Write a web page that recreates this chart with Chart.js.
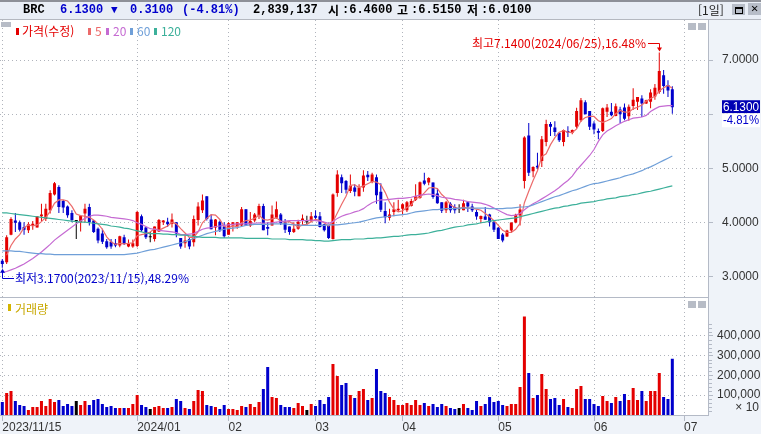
<!DOCTYPE html>
<html lang="ko"><head><meta charset="utf-8">
<script src="https://cdn.jsdelivr.net/npm/chart.js@4"></script>
<style>
html,body{margin:0;padding:0;width:761px;height:434px;overflow:hidden;background:#eff3f9}
#wrap{position:absolute;left:0;top:0;width:761px;height:434px}
canvas{position:absolute;left:0;top:0}
.t{position:absolute;white-space:pre;font-family:"Liberation Mono","Noto Sans CJK KR",monospace;line-height:14px}
.h{font-weight:bold;font-size:12px;top:3px;color:#000;transform-origin:left center}
.b{color:#0000cc}
.box{position:absolute;background:#b7bcc6}
.leg{font-family:"Liberation Sans Narrow","Noto Sans CJK KR",sans-serif;font-size:12px;top:24px}
.sq{position:absolute;width:3px;height:7px;top:28px}
</style></head><body><div id="wrap">
<div style="position:absolute;left:0;top:0;width:761px;height:19px;background:#e9eef6;border-top:2px solid #8d9098;box-sizing:border-box"></div>
<div style="position:absolute;left:0;top:19px;width:761px;height:1px;background:#b4b8c0"></div>
<canvas id="c" width="761" height="434"></canvas>
<div class="t h" style="left:23px">BRC</div>
<div class="t h b" style="left:60px">6.1300</div>
<div class="t h b" style="left:111px;font-size:11px">▼</div>
<div class="t h b" style="left:130px">0.3100</div>
<div class="t h b" style="left:182px">(-4.81%)</div>
<div class="t h" style="left:253px">2,839,137</div>
<div class="t h" style="left:328px;font-family:'Noto Sans CJK KR';letter-spacing:0">시</div>
<div class="t h" style="left:342px">:6.4600</div>
<div class="t h" style="left:397px;font-family:'Noto Sans CJK KR'">고</div>
<div class="t h" style="left:411px">:6.5150</div>
<div class="t h" style="left:467px;font-family:'Noto Sans CJK KR'">저</div>
<div class="t h" style="left:481px">:6.0100</div>
<div class="t" style="left:698px;top:3px;font-size:12px;font-family:'Noto Sans CJK KR';color:#222">[1일]</div>
<div style="position:absolute;left:732px;top:4px;width:13px;height:11px;background:#b7bdc8"></div>
<div style="position:absolute;left:735px;top:7px;width:6px;height:4px;border:1px solid #000;border-top-width:2px;box-sizing:content-box"></div>
<div class="t" style="left:748px;top:3px;width:13px;height:12px;background:#b7bdc8;font-size:12px;font-weight:bold;text-align:center;line-height:12px;color:#000">✕</div>
<div class="box" style="left:1px;top:22px;width:10px;height:5px"></div>
<div class="sq" style="left:16px;background:#e40000"></div><div class="t leg" style="left:22px;color:#e40000;font-family:'Noto Sans CJK KR'">가격(수정)</div>
<div class="sq" style="left:88px;background:#ec6a6a"></div><div class="t leg" style="left:95px;color:#ec6a6a">5</div>
<div class="sq" style="left:106px;background:#c56ad2"></div><div class="t leg" style="left:113px;color:#c56ad2">20</div>
<div class="sq" style="left:130px;background:#6f9fd8"></div><div class="t leg" style="left:137px;color:#6f9fd8">60</div>
<div class="sq" style="left:154px;background:#3cb09a"></div><div class="t leg" style="left:161px;color:#3cb09a">120</div>
<div class="sq" style="left:8px;top:304px;background:#d4b400"></div><div class="t leg" style="left:15px;top:302px;color:#c8a800;font-family:'Noto Sans CJK KR'">거래량</div>
<div class="box" style="left:688px;top:23px;width:8px;height:7px"></div><div class="box" style="left:698px;top:23px;width:8px;height:7px"></div>
<div class="box" style="left:688px;top:301px;width:8px;height:7px"></div><div class="box" style="left:698px;top:301px;width:8px;height:7px"></div>
<div class="t" style="left:732px;top:400px;width:27px;text-align:right;font-family:'Liberation Sans Narrow','Liberation Sans',sans-serif;font-size:12px;color:#333">× 10</div>
</div>
<script>
const categories=[
"2023/11/15","11/16","11/17","11/20","11/21","11/22","11/24","11/27","11/28","11/29","11/30",
"12/01","12/04","12/05","12/06","12/07","12/08","12/11","12/12","12/13","12/14","12/15","12/18","12/19","12/20","12/21","12/22","12/26","12/27","12/28","12/29",
"2024/01/02","01/03","01/04","01/05","01/08","01/09","01/10","01/11","01/12","01/16","01/17","01/18","01/19","01/22","01/23","01/24","01/25","01/26","01/29","01/30","01/31",
"02/01","02/02","02/05","02/06","02/07","02/08","02/09","02/12","02/13","02/14","02/15","02/16","02/20","02/21","02/22","02/23","02/26","02/27","02/28","02/29",
"03/01","03/04","03/05","03/06","03/07","03/08","03/11","03/12","03/13","03/14","03/15","03/18","03/19","03/20","03/21","03/22","03/25","03/26","03/27","03/28",
"04/01","04/02","04/03","04/04","04/05","04/08","04/09","04/10","04/11","04/12","04/15","04/16","04/17","04/18","04/19","04/22","04/23","04/24","04/25","04/26","04/29","04/30",
"05/01","05/02","05/03","05/06","05/07","05/08","05/09","05/10","05/13","05/14","05/15","05/16","05/17","05/20","05/21","05/22","05/23","05/24","05/28","05/29","05/30","05/31",
"06/03","06/04","06/05","06/06","06/07","06/10","06/11","06/12","06/13","06/14","06/17","06/18","06/20","06/21","06/24","06/25","06/26","06/27","06/28"];
const opens=[3.30,3.27,3.78,4.04,4.01,3.92,3.86,3.95,3.91,4.12,4.07,4.23,4.52,4.66,4.40,4.30,4.18,4.03,4.01,4.17,4.29,4.04,3.89,3.80,3.66,3.65,3.62,3.58,3.73,3.56,3.56,3.57,4.12,3.91,3.73,3.70,3.84,4.01,4.02,3.98,4.01,3.72,3.62,3.70,3.64,4.05,4.23,4.49,4.06,3.91,4.02,3.93,3.78,3.95,3.93,3.95,4.25,3.95,4.04,4.13,4.31,3.92,3.95,4.09,4.15,4.01,3.93,3.83,3.89,4.04,4.01,4.03,4.13,4.12,3.97,3.95,3.70,4.55,4.84,4.77,4.585,4.65,4.49,4.65,4.887,4.75,4.84,4.57,4.215,4.09,4.20,4.23,4.26,4.23,4.31,4.425,4.456,4.78,4.74,4.74,4.54,4.38,4.23,4.35,4.29,4.25,4.23,4.38,4.30,4.197,4.07,4.117,4.15,4.01,3.907,3.784,3.747,3.858,4.006,4.135,4.77,5.61,4.95,5.05,5.14,5.49,5.82,5.755,5.66,5.49,5.69,5.66,5.77,5.89,6.22,6.06,5.83,5.69,5.69,6.045,6.045,5.97,6.09,6.125,5.965,6.155,6.23,6.29,6.20,6.23,6.33,6.41,6.72,6.54,6.46];
const highs=[3.33,3.77,4.10,4.18,4.04,4.01,4.01,4.03,4.12,4.35,4.35,4.60,4.75,4.69,4.42,4.32,4.23,4.05,4.13,4.35,4.35,4.05,3.91,3.89,3.70,3.70,3.70,3.76,3.78,3.69,3.69,4.22,4.15,3.92,3.83,3.93,4.07,4.05,4.09,4.17,4.01,3.72,3.77,3.73,4.135,4.38,4.52,4.49,4.15,4.07,4.04,4.01,4.01,4.01,4.01,4.29,4.25,4.20,4.18,4.35,4.35,4.01,4.32,4.39,4.18,4.07,3.93,4.01,4.055,4.15,4.13,4.20,4.23,4.20,3.98,3.95,4.54,4.97,4.89,4.79,4.89,4.71,4.71,4.97,4.955,4.92,4.89,4.73,4.38,4.26,4.38,4.425,4.36,4.40,4.44,4.71,4.76,4.92,4.84,4.74,4.63,4.38,4.40,4.38,4.34,4.34,4.425,4.40,4.35,4.24,4.135,4.29,4.165,4.04,3.92,3.81,3.87,4.006,4.166,4.339,5.595,5.84,5.04,5.29,5.60,5.90,5.86,5.87,5.66,5.72,5.78,5.72,6.12,6.30,6.26,6.06,5.87,5.74,6.125,6.19,6.21,6.20,6.14,6.20,6.18,6.48,6.32,6.35,6.27,6.46,6.56,7.14,6.815,6.63,6.515];
const lows=[3.17,3.24,3.77,3.83,3.84,3.78,3.81,3.87,3.91,4.03,4.03,4.17,4.50,4.18,4.18,4.09,4.01,3.70,3.84,4.01,3.95,3.81,3.62,3.61,3.52,3.52,3.55,3.55,3.59,3.55,3.54,3.55,3.83,3.70,3.64,3.655,3.83,3.96,3.92,3.91,3.73,3.52,3.54,3.51,3.56,3.95,4.18,4.04,3.88,3.77,3.83,3.72,3.78,3.84,3.89,3.93,3.95,3.92,4.01,4.07,3.86,3.77,3.95,4.07,3.96,3.81,3.78,3.81,3.87,3.95,3.95,4.01,4.04,3.91,3.84,3.70,3.69,4.48,4.55,4.54,4.55,4.49,4.49,4.57,4.77,4.73,4.35,4.20,3.99,4.04,4.12,4.20,4.14,4.20,4.30,4.40,4.44,4.69,4.69,4.44,4.35,4.18,4.18,4.185,4.17,4.18,4.23,4.20,4.20,4.055,3.99,4.055,3.93,3.83,3.70,3.64,3.735,3.81,3.99,3.95,4.63,4.86,4.84,4.98,5.03,5.41,5.60,5.60,5.49,5.41,5.58,5.63,5.74,5.86,6.00,5.71,5.63,5.54,5.675,5.95,5.965,5.965,5.84,5.89,5.88,6.08,6.08,5.95,6.19,6.11,6.27,6.38,6.38,6.32,6.01];
const closes=[3.24,3.73,4.07,4.00,3.87,3.87,3.97,3.98,4.12,4.15,4.26,4.55,4.73,4.29,4.28,4.14,4.05,4.03,4.13,4.26,4.01,3.83,3.67,3.65,3.55,3.56,3.58,3.75,3.61,3.61,3.62,4.20,3.86,3.73,3.73,3.93,4.05,4.04,3.97,4.06,3.80,3.56,3.67,3.56,4.07,4.30,4.41,4.07,3.88,4.06,3.87,3.75,3.99,4.01,4.01,4.25,3.95,4.03,4.15,4.31,3.86,3.89,4.15,4.25,3.99,3.87,3.83,3.89,4.02,4.08,4.01,4.12,4.09,3.92,3.86,3.72,4.52,4.89,4.73,4.61,4.68,4.57,4.65,4.87,4.84,4.89,4.505,4.24,4.10,4.15,4.25,4.26,4.34,4.38,4.40,4.49,4.745,4.72,4.825,4.475,4.36,4.22,4.38,4.23,4.23,4.25,4.36,4.30,4.23,4.117,4.123,4.055,4.01,3.87,3.70,3.67,3.858,4.006,4.148,4.246,5.57,4.92,5.03,5.02,5.54,5.82,5.77,5.675,5.52,5.71,5.66,5.71,6.06,6.26,6.00,5.77,5.72,5.66,6.11,6.125,5.98,6.15,6.00,5.92,6.14,6.27,6.32,6.20,6.26,6.40,6.49,6.80,6.52,6.44,6.13];
const volumes=[66000,111000,121000,71000,50000,45000,25000,40000,40000,71000,45000,81000,66000,76000,45000,56000,45000,71000,50000,71000,50000,76000,81000,56000,40000,45000,35000,35000,35000,35000,56000,101000,50000,40000,30000,40000,45000,35000,35000,40000,81000,71000,35000,30000,71000,126000,121000,50000,45000,40000,30000,50000,30000,30000,25000,45000,40000,56000,40000,66000,131000,242000,91000,86000,50000,40000,40000,35000,61000,45000,25000,56000,45000,76000,56000,91000,258000,197000,152000,162000,101000,86000,121000,131000,76000,86000,232000,121000,111000,91000,76000,50000,50000,61000,50000,76000,50000,61000,45000,56000,40000,56000,45000,35000,30000,35000,56000,35000,25000,71000,45000,56000,91000,66000,71000,50000,45000,56000,56000,141000,497000,212000,86000,101000,207000,131000,81000,86000,50000,81000,40000,35000,131000,146000,81000,81000,56000,45000,96000,71000,61000,91000,71000,106000,76000,136000,76000,121000,71000,121000,121000,212000,91000,81000,283914];
const ma5=[null,3.40,3.58,3.70,3.78,3.91,3.96,3.94,3.96,4.02,4.10,4.21,4.36,4.42,4.42,4.40,4.30,4.16,4.13,4.12,4.10,4.05,3.98,3.88,3.74,3.65,3.60,3.62,3.61,3.62,3.63,3.76,3.78,3.80,3.83,3.89,3.86,3.90,3.94,4.01,3.98,3.89,3.81,3.73,3.73,3.83,4.00,4.08,4.15,4.14,4.06,3.93,3.91,3.94,3.93,4.00,4.04,4.05,4.08,4.14,4.06,4.05,4.07,4.09,4.03,4.01,4.02,3.97,3.92,3.96,3.97,4.02,4.06,4.04,4.00,3.94,4.02,4.18,4.34,4.49,4.69,4.70,4.65,4.68,4.72,4.76,4.75,4.70,4.56,4.38,4.25,4.20,4.22,4.28,4.33,4.45,4.47,4.55,4.64,4.65,4.63,4.52,4.45,4.33,4.28,4.26,4.29,4.27,4.27,4.25,4.23,4.17,4.11,4.04,3.95,3.86,3.82,3.82,3.88,3.99,4.37,4.58,4.78,4.96,5.22,5.27,5.44,5.57,5.67,5.70,5.67,5.66,5.73,5.88,5.94,5.96,5.96,5.88,5.85,5.88,5.92,6.01,6.07,6.04,6.04,6.10,6.13,6.17,6.24,6.29,6.33,6.43,6.49,6.53,6.48];
const ma20=[3.08,3.10,3.13,3.16,3.20,3.24,3.29,3.34,3.40,3.46,3.53,3.60,3.68,3.74,3.80,3.86,3.92,3.98,4.03,4.08,4.12,4.14,4.14,4.13,4.12,4.10,4.09,4.08,4.07,4.06,4.04,4.00,3.97,3.93,3.89,3.88,3.86,3.85,3.84,3.83,3.82,3.78,3.78,3.79,3.80,3.84,3.88,3.90,3.91,3.93,3.94,3.95,3.96,3.97,3.98,3.98,3.98,3.99,3.99,4.00,3.99,4.00,4.00,4.01,4.02,4.03,4.04,4.04,4.04,4.04,4.04,4.05,4.04,4.03,4.01,3.99,4.02,4.08,4.12,4.15,4.17,4.20,4.22,4.26,4.32,4.37,4.40,4.42,4.42,4.43,4.44,4.45,4.45,4.46,4.47,4.49,4.51,4.52,4.53,4.52,4.50,4.47,4.46,4.45,4.43,4.42,4.41,4.39,4.38,4.37,4.36,4.34,4.31,4.27,4.23,4.19,4.15,4.13,4.14,4.17,4.24,4.30,4.35,4.39,4.44,4.49,4.54,4.59,4.65,4.72,4.78,4.86,4.97,5.06,5.15,5.24,5.35,5.50,5.62,5.69,5.74,5.79,5.83,5.87,5.90,5.93,5.94,5.95,5.98,6.05,6.10,6.14,6.15,6.16,6.16];
const ma60=[3.48,3.48,3.48,3.47,3.47,3.46,3.45,3.44,3.43,3.43,3.42,3.42,3.41,3.41,3.41,3.41,3.41,3.41,3.41,3.41,3.41,3.41,3.41,3.41,3.41,3.41,3.41,3.41,3.41,3.42,3.43,3.44,3.46,3.48,3.50,3.51,3.53,3.55,3.57,3.59,3.61,3.63,3.65,3.68,3.71,3.74,3.77,3.80,3.82,3.84,3.86,3.88,3.89,3.90,3.91,3.93,3.95,3.96,3.97,3.97,3.97,3.97,3.98,3.98,3.98,3.98,3.97,3.96,3.96,3.95,3.95,3.95,3.95,3.95,3.95,3.96,3.96,3.96,3.97,3.98,3.99,4.00,4.01,4.03,4.05,4.07,4.09,4.10,4.11,4.12,4.13,4.14,4.15,4.16,4.18,4.20,4.21,4.22,4.23,4.24,4.24,4.25,4.26,4.26,4.26,4.27,4.27,4.27,4.27,4.27,4.27,4.27,4.26,4.26,4.26,4.26,4.27,4.27,4.28,4.29,4.29,4.30,4.33,4.36,4.39,4.42,4.45,4.48,4.50,4.53,4.56,4.59,4.61,4.64,4.67,4.70,4.72,4.73,4.75,4.77,4.79,4.81,4.83,4.86,4.88,4.90,4.93,4.96,5.00,5.03,5.07,5.11,5.15,5.19,5.23];
const ma120=[4.18,4.18,4.17,4.16,4.15,4.14,4.13,4.12,4.11,4.10,4.09,4.08,4.07,4.06,4.05,4.04,4.03,4.02,4.01,4.01,4.00,3.99,3.98,3.97,3.96,3.94,3.93,3.92,3.90,3.89,3.87,3.85,3.83,3.81,3.80,3.80,3.80,3.79,3.79,3.78,3.78,3.77,3.77,3.76,3.75,3.74,3.73,3.73,3.73,3.73,3.72,3.72,3.72,3.72,3.72,3.72,3.71,3.71,3.71,3.71,3.71,3.71,3.70,3.70,3.70,3.70,3.69,3.69,3.69,3.69,3.68,3.68,3.67,3.67,3.66,3.66,3.67,3.68,3.69,3.69,3.69,3.70,3.70,3.70,3.71,3.71,3.72,3.72,3.73,3.74,3.75,3.75,3.76,3.77,3.78,3.78,3.79,3.80,3.81,3.83,3.85,3.86,3.88,3.90,3.92,3.93,3.94,3.96,3.97,3.98,4.00,4.01,4.03,4.04,4.05,4.06,4.07,4.08,4.09,4.11,4.13,4.15,4.17,4.19,4.21,4.23,4.25,4.27,4.28,4.30,4.31,4.33,4.34,4.36,4.37,4.38,4.39,4.41,4.42,4.44,4.45,4.46,4.48,4.49,4.50,4.52,4.53,4.55,4.57,4.58,4.60,4.62,4.64,4.66,4.68];
const xTickIndex=[0,31,52,72,92,114,136,156.7];
const xTickLabels=["2023/11/15","2024/01","02","03","04","05","06","07"];
const priceTicks=[3,4,5,6,7];
const volumeTicks=[100000,200000,300000,400000];
const volumeMinorTicks=[20000,40000,60000,80000,120000,140000,160000,180000,220000,240000,260000,280000,320000,340000,360000,380000,420000,440000,460000];
const hiNote="최고7.1400(2024/06/25),16.48%", loNote="최저3.1700(2023/11/15),48.29%";
const hiIndex=151, hiValue=7.14, loIndex=0, loValue=3.17;
const lastLabel="6.1300", lastPct="-4.81%";

const RED="#e40000",BLUE="#0000cc",BLACK="#000000";
const dirColor=categories.map((_,i)=>closes[i]>opens[i]?RED:closes[i]<opens[i]?BLUE:BLACK);
const pts=a=>a.map((v,i)=>({x:i,y:v}));
const line=(label,arr,color)=>({type:"line",label,data:pts(arr),yAxisID:"yP",borderColor:color,borderWidth:1.2,pointRadius:0,tension:0,order:0,spanGaps:true});
const AXIS_FONT={family:"'Liberation Sans Narrow','Liberation Sans',sans-serif",size:12};
const GRID={color:"#b0b4bc",tickBorderDash:[],tickColor:"#b4bac6"};
const BORDER={display:false,dash:[1,3]};
const frame={id:"frame",
 beforeDraw(ch){const{ctx,chartArea:a}=ch;ctx.save();ctx.fillStyle="#fff";ctx.fillRect(a.left,a.top,a.right-a.left,a.bottom-a.top);ctx.restore();},
 afterDraw(ch){const{ctx,chartArea:a,scales:s}=ch;const yP=s.yP,yV=s.yV,x=s.x;ctx.save();
  ctx.fillStyle="#b4bac6";
  ctx.fillRect(a.left,297,a.right-a.left,1);ctx.fillRect(a.right,20,1,395);ctx.fillRect(a.left,415,a.right+1,1);
  volumeMinorTicks.forEach(v=>{ctx.fillRect(a.right,Math.round(yV.getPixelForValue(v)),4,1);});
  const cjk="'Noto Sans CJK KR','Liberation Sans Narrow',sans-serif";
  ctx.font="12px "+cjk;ctx.textBaseline="middle";ctx.textAlign="left";
  const hx=Math.round(x.getPixelForValue(hiIndex)),hy=yP.getPixelForValue(hiValue);
  ctx.fillStyle=RED;ctx.fillText(hiNote,472,43,174);
  ctx.strokeStyle=RED;ctx.lineWidth=1;ctx.beginPath();ctx.moveTo(648,43.5);ctx.lineTo(hx+.5,43.5);ctx.lineTo(hx+.5,hy-3);ctx.stroke();
  ctx.beginPath();ctx.moveTo(hx-2,hy-5);ctx.lineTo(hx+3,hy-5);ctx.lineTo(hx+.5,hy-1);ctx.fill();
  const lx=Math.round(x.getPixelForValue(loIndex)),ly=yP.getPixelForValue(loValue);
  ctx.fillStyle=BLUE;ctx.fillText(loNote,15,278,174);
  ctx.strokeStyle=BLUE;ctx.beginPath();ctx.moveTo(14,278.5);ctx.lineTo(lx+.5,278.5);ctx.lineTo(lx+.5,ly+3);ctx.stroke();
  ctx.beginPath();ctx.moveTo(lx-2,ly+5);ctx.lineTo(lx+3,ly+5);ctx.lineTo(lx+.5,ly+1);ctx.fill();
  const py=yP.getPixelForValue(closes[closes.length-1]);
  ctx.fillStyle="#0000b4";ctx.fillRect(722,py-7,38,13);
  ctx.fillStyle="#fff";ctx.fillRect(722,py+6,38,14);
  ctx.font="12px "+AXIS_FONT.family;ctx.fillStyle="#fff";ctx.fillText(lastLabel,723,py,36);
  ctx.fillStyle="#0000cc";ctx.fillText(lastPct,723,py+13,36);
  ctx.restore();}
};
new Chart(document.getElementById("c"),{
 data:{datasets:[
  line("120",ma120,"#3cb09a"),line("60",ma60,"#6f9fd8"),line("20",ma20,"#c56ad2"),line("5",ma5,"#ec6a6a"),
  {type:"bar",label:"body",data:categories.map((_,i)=>({x:i,y:[opens[i],closes[i]]})),yAxisID:"yP",backgroundColor:dirColor,barThickness:3,minBarLength:1,inflateAmount:0,grouped:false,order:1},
  {type:"bar",label:"wick",data:categories.map((_,i)=>({x:i,y:[lows[i],highs[i]]})),yAxisID:"yP",backgroundColor:dirColor,barThickness:1,inflateAmount:0,grouped:false,order:2},
  {type:"bar",label:"거래량",data:pts(volumes),yAxisID:"yV",backgroundColor:dirColor,barThickness:3,inflateAmount:0,grouped:false,order:3}
 ]},
 options:{responsive:false,animation:false,devicePixelRatio:1,events:[],
  layout:{padding:{left:0,right:0,top:20,bottom:0}},
  plugins:{legend:{display:false},tooltip:{enabled:false}},
  scales:{
   x:{type:"linear",offset:false,min:-0.53,max:162.2,position:"bottom",
    afterBuildTicks(s){s.ticks=xTickIndex.map(v=>({value:v}));},
    afterFit(s){s.height=19;s.paddingLeft=0;s.paddingRight=0;},
    grid:{...GRID,offset:false,tickLength:6},
    border:BORDER,
    ticks:{autoSkip:false,maxRotation:0,align:"start",padding:-1,color:"#333",font:AXIS_FONT,
     callback(v){const k=xTickIndex.indexOf(v);return k<0?"":xTickLabels[k];}}},
   yP:{type:"linear",position:"right",stack:"main",stackWeight:277.5,weight:1,min:2.621,max:7.739,
    afterBuildTicks(s){s.ticks=priceTicks.map(v=>({value:v}));},
    afterFit(s){s.width=53;s.paddingTop=0;s.paddingBottom=0;},
    grid:{...GRID,tickLength:5},
    border:BORDER,
    ticks:{padding:9,color:"#333",font:AXIS_FONT,callback:v=>v.toFixed(4)}},
   yV:{type:"linear",position:"right",stack:"main",stackWeight:117.5,weight:2,min:0,max:593000,
    afterBuildTicks(s){s.ticks=volumeTicks.map(v=>({value:v}));},
    afterFit(s){s.width=53;s.paddingTop=0;s.paddingBottom=0;},
    grid:{...GRID,tickLength:5},
    border:BORDER,
    ticks:{padding:4,color:"#333",font:AXIS_FONT,callback:v=>v.toLocaleString("en-US")}}
  }},
 plugins:[frame]
});
</script></body></html>
